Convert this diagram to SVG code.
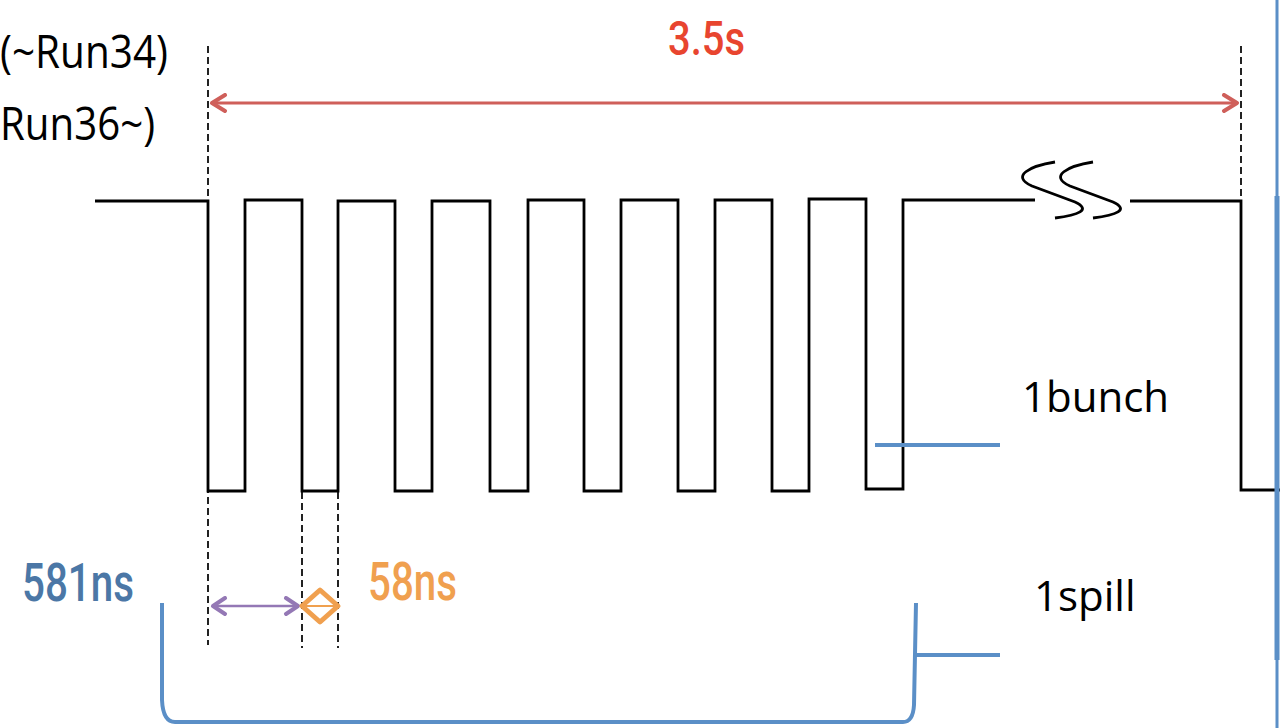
<svg xmlns="http://www.w3.org/2000/svg" width="1280" height="728" viewBox="0 0 1280 728">
<style>
.wave{fill:none;stroke:#000;stroke-width:2.8;stroke-linejoin:miter}
.dash{fill:none;stroke:#222;stroke-width:2;stroke-dasharray:7,4}
.blue{fill:none;stroke:#5b8fc7;stroke-width:4;stroke-linecap:butt}
.lbl{font-family:"Open Sans","Liberation Sans",sans-serif;fill:#000}
.num{font-family:Roboto,"Liberation Sans",Arial,sans-serif;font-weight:500}
</style>
<defs>
<marker id="redhead" viewBox="0 0 20 20" refX="17" refY="10" markerWidth="20" markerHeight="20" markerUnits="userSpaceOnUse" orient="auto-start-reverse">
<path d="M4,2 L17,10 L4,18" fill="none" stroke="#cf5f5a" stroke-width="4" stroke-linecap="round" stroke-linejoin="round"/>
</marker>
<marker id="purphead" viewBox="0 0 20 20" refX="17" refY="10" markerWidth="20" markerHeight="20" markerUnits="userSpaceOnUse" orient="auto-start-reverse">
<path d="M5,2 L17,10 L5,18" fill="none" stroke="#9478b5" stroke-width="4" stroke-linecap="round" stroke-linejoin="round"/>
</marker>
</defs>

<g id="labels-left">
<text class="lbl" x="0" y="68" font-size="46" textLength="168" lengthAdjust="spacingAndGlyphs">(~Run34)</text>
<text class="lbl" x="0" y="140" font-size="46" textLength="155" lengthAdjust="spacingAndGlyphs">Run36~)</text>
</g>

<g id="dashes">
<line class="dash" x1="208" y1="46" x2="208" y2="645"/>
<line class="dash" x1="302" y1="492" x2="302" y2="648"/>
<line class="dash" x1="338" y1="492" x2="338" y2="648"/>
<line class="dash" x1="1241" y1="46" x2="1241" y2="200"/>
</g>

<g id="waveform">
<path class="wave" d="M95,201 H208 V491 H245 V200 H302 V491 H338 V201 H395 V491 H432 V201 H490 V491 H528 V200 H584 V491 H621 V200 H678 V491 H715 V200 H772 V491 H809 V199 H866 V489 H903 V200 H1035"/>
<path class="wave" d="M1130,201 H1241 V490 H1280"/>
<path class="wave" d="M1055,162 C1030,166 1010,176 1032,186 L1075,202 C1092,210 1078,215 1055,218"/>
<path class="wave" d="M1093,162 C1068,166 1048,176 1070,186 L1113,202 C1130,210 1116,215 1093,218"/>
</g>

<g id="span-3-5s">
<line x1="212" y1="103" x2="1237" y2="103" stroke="#cf5f5a" stroke-width="3" marker-start="url(#redhead)" marker-end="url(#redhead)"/>
<text class="num" x="668" y="55" font-size="48" fill="#e8452f" textLength="77" lengthAdjust="spacingAndGlyphs">3.5s</text>
</g>

<g id="bunch">
<line class="blue" x1="875" y1="445" x2="1000" y2="445"/>
<text class="lbl" x="1022" y="412" font-size="42">1bunch</text>
</g>

<g id="spill">
<path class="blue" d="M162,603 V700 Q163,722 175,722 H903 Q913,722 914,705 L916,603"/>
<line class="blue" x1="915" y1="655" x2="1000" y2="655"/>
<text class="lbl" x="1034" y="611" font-size="42">1spill</text>
</g>

<g id="period-581ns">
<line x1="213" y1="606" x2="298" y2="606" stroke="#9478b5" stroke-width="2.5" marker-start="url(#purphead)" marker-end="url(#purphead)"/>
<text class="num" x="22" y="601" font-size="54" fill="#4b77a6" textLength="112" lengthAdjust="spacingAndGlyphs">581ns</text>
</g>

<g id="gap-58ns">
<polygon points="302,606 320,590 338,606 320,622" fill="none" stroke="#f0a04f" stroke-width="5" stroke-linejoin="round"/>
<line x1="305" y1="606" x2="335" y2="606" stroke="#f0a04f" stroke-width="2"/>
<text class="num" x="368" y="600" font-size="54" fill="#f0a04f" textLength="89" lengthAdjust="spacingAndGlyphs">58ns</text>
</g>

<g id="edge">
<line x1="1277" y1="0" x2="1277" y2="728" stroke="#5b8fc7" stroke-width="3"/>
<line x1="1277" y1="196" x2="1277" y2="660" stroke="#5b8fc7" stroke-width="5"/>
</g>
</svg>
